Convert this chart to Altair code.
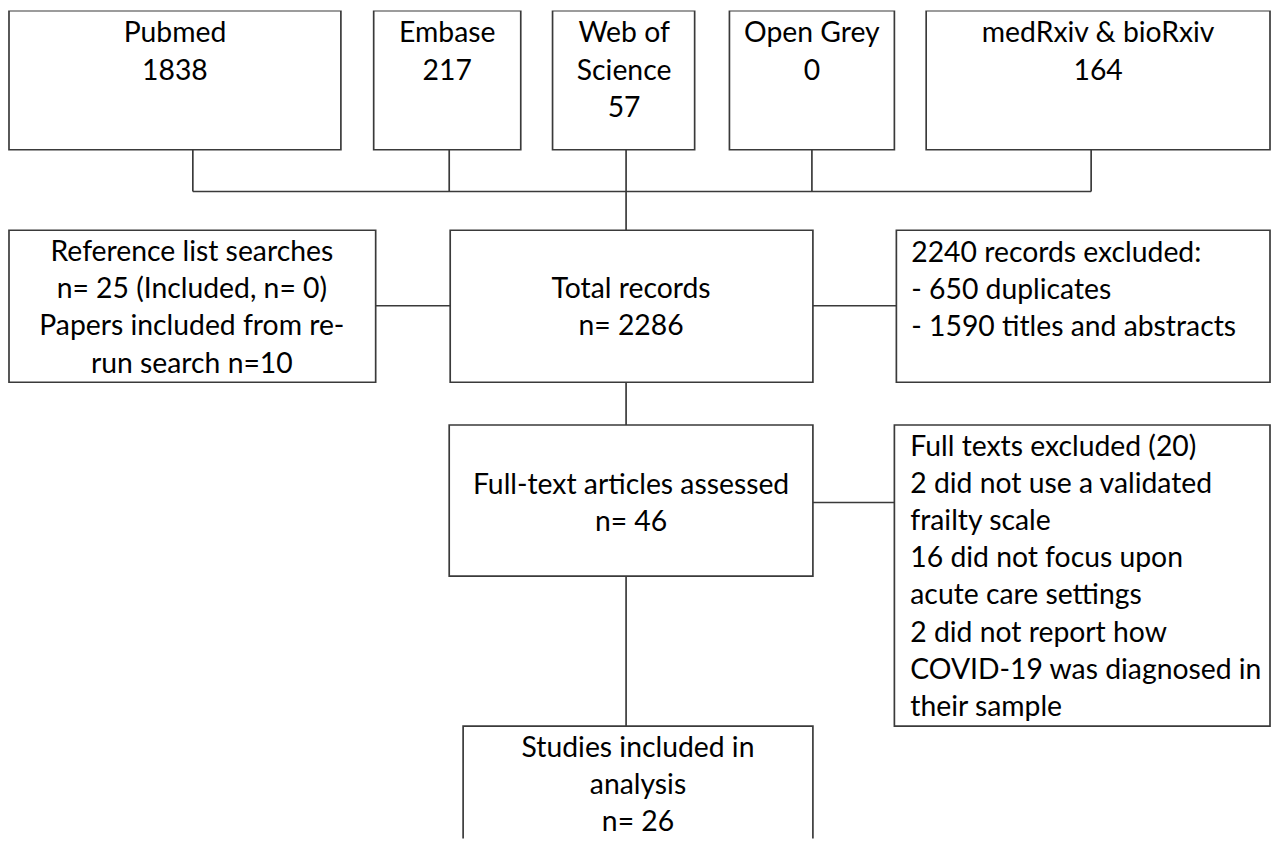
import altair as alt
import pandas as pd

# ---------------- data ----------------
sources = ["Pubmed", "Embase", "Web of Science", "Open Grey", "medRxiv & bioRxiv"]
source_counts = [1838, 217, 57, 0, 164]
reference_list_n = 25
reference_list_included = 0
rerun_included = 10
total_records = 2286
excluded_total = 2240
excluded_duplicates = 650
excluded_titles_abstracts = 1590
fulltext_assessed = 46
fulltext_excluded = 20
fulltext_reason_counts = [2, 16, 2]
studies_included = 26

# ---------------- text of each box (wrapped as in the original) ----------------
box_ids = ["pubmed", "embase", "wos", "grey", "rxiv",
           "reflist", "total", "excl", "fulltext", "ftexcl", "studies"]
box_text = {
    "pubmed": [sources[0], str(source_counts[0])],
    "embase": [sources[1], str(source_counts[1])],
    "wos": ["Web of", "Science", str(source_counts[2])],
    "grey": [sources[3], str(source_counts[3])],
    "rxiv": [sources[4], str(source_counts[4])],
    "reflist": ["Reference list searches",
                f"n= {reference_list_n} (Included, n= {reference_list_included})",
                "Papers included from re-",
                f"run search n={rerun_included}"],
    "total": ["Total records", f"n= {total_records}"],
    "excl": [f"{excluded_total} records excluded:",
             f"- {excluded_duplicates} duplicates",
             f"- {excluded_titles_abstracts} titles and abstracts"],
    "fulltext": ["Full-text articles assessed", f"n= {fulltext_assessed}"],
    "ftexcl": [f"Full texts excluded ({fulltext_excluded})",
               f"{fulltext_reason_counts[0]} did not use a validated",
               "frailty scale",
               f"{fulltext_reason_counts[1]} did not focus upon",
               "acute care settings",
               f"{fulltext_reason_counts[2]} did not report how",
               "COVID-19 was diagnosed in",
               "their sample"],
    "studies": ["Studies included in", "analysis", f"n= {studies_included}"],
}

# ---------------- layout (page pixel coordinates) ----------------
box_geom = {  # x0, x1, y0, y1
    "pubmed": (9, 343, 8, 148),
    "embase": (376, 524, 8, 148),
    "wos": (556, 699, 8, 148),
    "grey": (734, 900, 8, 148),
    "rxiv": (932, 1278, 8, 148),
    "reflist": (9, 378, 229, 382),
    "total": (453, 818, 229, 382),
    "excl": (902, 1278, 229, 382),
    "fulltext": (452, 818, 425, 577),
    "ftexcl": (900, 1278, 425, 728),
    "studies": (466, 818, 728, 860),
}
text_anchor = {  # x, first baseline, align
    "pubmed": (176, 40, "center"),
    "embase": (450, 40, "center"),
    "wos": (628, 40, "center"),
    "grey": (817, 40, "center"),
    "rxiv": (1105, 40, "center"),
    "reflist": (193, 260, "center"),
    "total": (635, 297, "center"),
    "excl": (917, 261, "left"),
    "fulltext": (635, 494, "center"),
    "ftexcl": (916, 456, "left"),
    "studies": (642, 759, "center"),
}
LINE_H = 37.4

connectors = [  # x, x2, y, y2
    (194, 194, 148, 190), (452, 452, 148, 190), (630, 630, 148, 190),
    (817, 817, 148, 190), (1098, 1098, 148, 190),
    (194, 1098, 190, 190),
    (630, 630, 190, 229),
    (378, 453, 305, 305), (818, 902, 305, 305),
    (630, 630, 382, 425),
    (818, 900, 503, 503),
    (630, 630, 577, 728),
]

boxes_df = pd.DataFrame(
    [{"id": b, "x0": box_geom[b][0], "x1": box_geom[b][1],
      "y0": box_geom[b][2], "y1": box_geom[b][3]} for b in box_ids])

rows = []
for b in box_ids:
    tx, ty, al = text_anchor[b]
    for i, line in enumerate(box_text[b]):
        rows.append({"id": b, "x": tx, "y": ty + i * LINE_H, "text": line, "align": al})
text_df = pd.DataFrame(rows)
conn_df = pd.DataFrame(connectors, columns=["x", "x2", "y", "y2"])

W, H = 1271, 833
xs = alt.Scale(domain=[8, 1279], nice=False, zero=False)
ys = alt.Scale(domain=[8, 841], nice=False, zero=False, reverse=True)
LINE_COLOR = "#3a3a3a"
FONT = "Lato"
FSIZE = 28.5

rects = alt.Chart(boxes_df).mark_rect(
    fill="white", stroke=LINE_COLOR, strokeWidth=1.7, clip=True
).encode(
    x=alt.X("x0:Q", scale=xs, axis=None), x2="x1:Q",
    y=alt.Y("y0:Q", scale=ys, axis=None), y2="y1:Q",
)

rules = alt.Chart(conn_df).mark_rule(
    color=LINE_COLOR, strokeWidth=1.7
).encode(
    x=alt.X("x:Q", scale=xs, axis=None), x2="x2:Q",
    y=alt.Y("y:Q", scale=ys, axis=None), y2="y2:Q",
)

text_c = alt.Chart(text_df).transform_filter(
    alt.datum.align == "center"
).mark_text(
    font=FONT, fontSize=FSIZE, align="center", baseline="alphabetic", color="#000000"
).encode(
    x=alt.X("x:Q", scale=xs, axis=None),
    y=alt.Y("y:Q", scale=ys, axis=None),
    text="text:N",
)

text_l = alt.Chart(text_df).transform_filter(
    alt.datum.align == "left"
).mark_text(
    font=FONT, fontSize=FSIZE, align="left", baseline="alphabetic", color="#000000"
).encode(
    x=alt.X("x:Q", scale=xs, axis=None),
    y=alt.Y("y:Q", scale=ys, axis=None),
    text="text:N",
)

chart = alt.layer(rules, rects, text_c, text_l).properties(
    width=W, height=H, padding=0,
    autosize=alt.AutoSizeParams(type="none"),
    background="white",
).configure_view(stroke=None)

chart.save("out.html", embed_options={"renderer": "svg", "actions": False})
